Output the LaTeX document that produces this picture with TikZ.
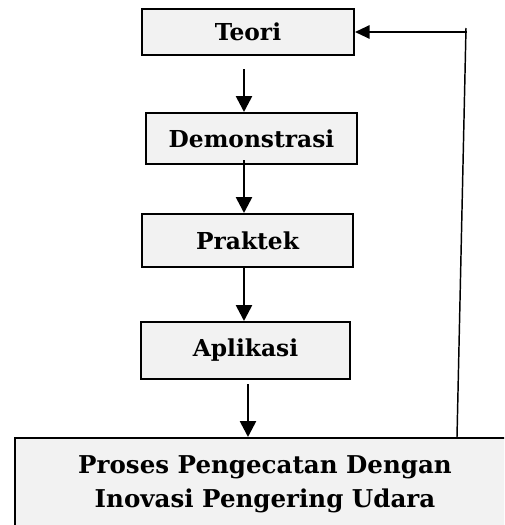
\documentclass[tikz,border=0pt]{standalone}
\usepackage{fontspec}
\setmainfont{DejaVu Serif}
\usepackage{xcolor}
\usetikzlibrary{arrows.meta, calc}
\definecolor{boxgray}{HTML}{F2F2F2}
\tikzset{
    kotak/.style={draw, line width=1.5pt, fill=boxgray, inner sep=0pt, align=center,
        font=\fontsize{17.5}{20}\selectfont\bfseries},
    panah/.style={-{Triangle[length=12pt,width=12pt]}, line width=2pt},
    balik/.style={-{Triangle[length=11pt,width=10pt]}, line width=1.5pt},
}

\begin{document}
\begin{tikzpicture}[x=0.75pt,y=-0.75pt]
\useasboundingbox (0,0) rectangle (504,525);
\clip (0,0) rectangle (504,525);
\node[kotak, minimum width=159pt, minimum height=34.5pt] (teori) at (248,32) {Teori};
\node[kotak, minimum width=158.25pt, minimum height=38.25pt] (demo) at (251.5,138.5) {Demonstrasi};
\node[kotak, minimum width=158.25pt, minimum height=39.75pt] (praktek) at (247.5,240.5) {Praktek};
\node[kotak, minimum width=156.75pt, minimum height=42.75pt] (aplikasi) at (245.5,350.5) {Aplikasi};
\node[kotak, anchor=north west, minimum width=420pt, minimum height=90pt] (bawah) at (14,437) {};
\node[align=center, inner sep=0pt, font=\fontsize{18.4}{25.5}\selectfont\bfseries]
    (bawahteks) at (265,484) {Proses Pengecatan Dengan\\Inovasi Pengering Udara};
\coordinate (kiri) at (244,0);
\coordinate (tengah) at (248,0);
\coordinate (fbbawah) at (457,0);
\coordinate (fbatas) at (466,28);
\coordinate (fbkanan) at (467,32);
\draw[panah] ($(teori.south -| kiri)+(0,13)$) -- (demo.north -| kiri);
\draw[panah] ($(demo.south -| kiri)+(0,-5)$) -- (praktek.north -| kiri);
\draw[panah] (praktek.south -| kiri) -- (aplikasi.north -| kiri);
\draw[panah] ($(aplikasi.south -| tengah)+(0,4)$) -- (bawah.north -| tengah);
\draw[line width=1.1pt] (bawah.north -| fbbawah) -- (fbatas);
\draw[balik] (fbkanan) -- (teori.east);
\end{tikzpicture}
\end{document}
